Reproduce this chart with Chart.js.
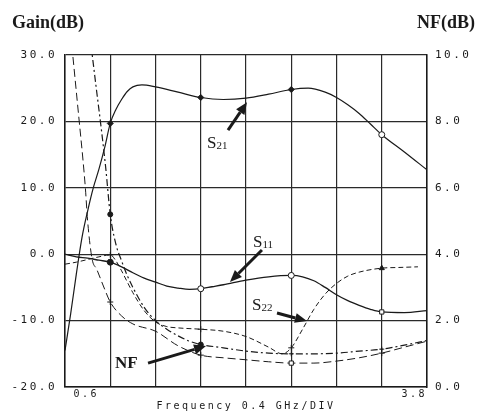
<!DOCTYPE html>
<html>
<head>
<meta charset="utf-8">
<script src="https://cdn.jsdelivr.net/npm/chart.js@4.4.1/dist/chart.umd.min.js"></script>
<style>
  html, body { margin: 0; padding: 0; background: #fff; }
  canvas { display: block; }
</style>
</head>
<body>
<canvas id="myChart" width="477" height="414"></canvas>
<script>
// frequencies in GHz, gain traces in dB (left axis), noise figure in dB (right axis)
var freqS21 = [0.6, 0.65, 0.7, 0.75, 0.8, 0.85, 0.9, 0.95, 1.0, 1.05, 1.1, 1.15, 1.2, 1.28, 1.4, 1.6, 1.8, 2.0, 2.2, 2.4, 2.6, 2.75, 2.9, 3.0, 3.1, 3.2, 3.3, 3.4, 3.6, 3.8];
var gainS21 = [-14.5, -9, -3, 2.5, 6.5, 10, 12.8, 16, 19.7, 21.8, 23.3, 24.5, 25.2, 25.5, 25.2, 24.4, 23.6, 23.3, 23.5, 24.1, 24.8, 25.0, 24.4, 23.6, 22.5, 21.2, 19.6, 18.0, 15.4, 12.7];

var freqS11 = [0.6, 0.7, 0.8, 0.9, 1.0, 1.1, 1.2, 1.3, 1.4, 1.5, 1.6, 1.7, 1.8, 1.9, 2.0, 2.2, 2.4, 2.6, 2.7, 2.8, 2.9, 3.0, 3.1, 3.2, 3.3, 3.4, 3.6, 3.8];
var gainS11 = [0, -0.4, -0.6, -0.9, -1.2, -1.9, -2.8, -3.6, -4.2, -4.8, -5.1, -5.3, -5.2, -4.9, -4.6, -3.9, -3.4, -3.2, -3.4, -4.0, -5.0, -6.1, -7.0, -7.7, -8.3, -8.7, -8.8, -8.5];

var freqS22 = [0.6, 0.7, 0.8, 0.9, 1.0, 1.05, 1.1, 1.2, 1.3, 1.4, 1.5, 1.6, 1.8, 2.0, 2.2, 2.4, 2.52, 2.6, 2.7, 2.8, 2.9, 3.0, 3.1, 3.2, 3.4, 3.55, 3.72];
var gainS22 = [-1.5, -1.2, -0.8, -0.4, -0.1, -1.0, -2.5, -5.8, -8.5, -10.2, -10.9, -11.1, -11.3, -11.6, -12.4, -14.0, -15.0, -14.1, -11.3, -8.3, -6.0, -4.4, -3.3, -2.7, -2.1, -2.0, -1.9];

var freqNF = [0.83, 0.88, 0.92, 0.96, 1.0, 1.05, 1.1, 1.15, 1.2, 1.3, 1.4, 1.5, 1.6, 1.7, 1.8, 2.0, 2.2, 2.4, 2.6, 2.8, 3.0, 3.2, 3.4, 3.6, 3.8];
var nfDb = [10.3, 8.9, 7.8, 6.6, 5.2, 4.3, 3.8, 3.36, 3.0, 2.4, 2.0, 1.74, 1.54, 1.38, 1.28, 1.18, 1.08, 1.02, 1.0, 1.0, 1.02, 1.08, 1.14, 1.26, 1.4];

var freqNF2 = [0.66, 0.68, 0.72, 0.76, 0.78, 0.8, 0.84, 0.88, 0.95, 1.0, 1.1, 1.2, 1.4, 1.6, 1.8, 2.0, 2.2, 2.4, 2.6, 2.8, 3.0, 3.2, 3.4, 3.6, 3.8];
var nf2Db = [10.3, 9.6, 8.2, 6.8, 6.0, 5.0, 3.85, 3.55, 2.95, 2.56, 2.14, 1.9, 1.68, 1.24, 0.96, 0.88, 0.82, 0.76, 0.72, 0.72, 0.78, 0.88, 1.02, 1.2, 1.38];

var markerFreqs = [1.0, 1.8, 2.6, 3.4];

var ink = '#1a1a1a';

function pts(xs, ys) {
	return xs.map(function(f, i) { return { x: f, y: ys[i] }; });
}

function markers(styles, radius, filled) {
	function idx(c) { return c.raw ? markerFreqs.indexOf(c.raw.x) : -1; }
	return {
		pointStyle: function(c) { var i = idx(c); return i >= 0 ? styles[i] : 'circle'; },
		pointRadius: function(c) { return idx(c) >= 0 ? radius : 0; },
		pointBackgroundColor: function(c) { var i = idx(c); return (i >= 0 && filled[i]) ? ink : '#fff'; },
		pointBorderColor: ink,
		pointBorderWidth: 1,
		pointHoverRadius: 0
	};
}

function trace(label, xs, ys, axis, width, dash, mk) {
	return Object.assign({
		label: label,
		data: pts(xs, ys),
		yAxisID: axis,
		borderColor: ink,
		borderWidth: width,
		borderDash: dash,
		fill: false,
		cubicInterpolationMode: 'monotone'
	}, mk);
}

// notes and arrows are placed in data units (GHz, gain dB)
var notes = [
	{ main: 'S', sub: '21', f: 1.855, g: 16.0 },
	{ main: 'S', sub: '11', f: 2.262, g: 1.1 },
	{ main: 'S', sub: '22', f: 2.253, g: -8.4 },
	{ main: 'NF', sub: '', f: 1.042, g: -17.1 }
];
var arrows = [
	{ from: [2.041, 18.7], to: [2.209, 22.9] },
	{ from: [2.341, 0.63], to: [2.058, -4.19] },
	{ from: [2.474, -8.86], to: [2.739, -10.07] },
	{ from: [1.334, -16.4], to: [1.847, -13.82] }
];

var notesPlugin = {
	id: 'notes',
	beforeDraw: function(chart) {
		chart.ctx.letterSpacing = '2.5px';
	},
	afterDraw: function(chart) {
		var ctx = chart.ctx;
		var xs = chart.scales.x, ys = chart.scales.y;
		ctx.save();
		ctx.letterSpacing = '0px';
		ctx.fillStyle = ink;
		ctx.strokeStyle = ink;
		ctx.textBaseline = 'alphabetic';

		ctx.font = 'bold 18px "Liberation Serif"';
		ctx.textAlign = 'left';
		ctx.fillText('Gain(dB)', 12, 28);
		ctx.textAlign = 'right';
		ctx.fillText('NF(dB)', 475, 28);
		ctx.textAlign = 'left';

		notes.forEach(function(n) {
			var px = xs.getPixelForValue(n.f), py = ys.getPixelForValue(n.g);
			ctx.font = (n.sub ? '' : 'bold ') + '17px "Liberation Serif"';
			ctx.fillText(n.main, px, py);
			if (n.sub) {
				var w = ctx.measureText(n.main).width;
				ctx.font = '11px "Liberation Serif"';
				ctx.fillText(n.sub, px + w, py + 1);
			}
		});

		arrows.forEach(function(a) {
			var x0 = xs.getPixelForValue(a.from[0]), y0 = ys.getPixelForValue(a.from[1]);
			var x1 = xs.getPixelForValue(a.to[0]), y1 = ys.getPixelForValue(a.to[1]);
			var ang = Math.atan2(y1 - y0, x1 - x0);
			var head = 12, half = 5;
			var bx = x1 - head * Math.cos(ang), by = y1 - head * Math.sin(ang);
			ctx.lineWidth = 3;
			ctx.beginPath();
			ctx.moveTo(x0, y0);
			ctx.lineTo(bx, by);
			ctx.stroke();
			ctx.beginPath();
			ctx.moveTo(x1, y1);
			ctx.lineTo(bx + half * Math.sin(ang), by - half * Math.cos(ang));
			ctx.lineTo(bx - half * Math.sin(ang), by + half * Math.cos(ang));
			ctx.closePath();
			ctx.fill();
		});
		ctx.restore();
	}
};

var tickFont = { family: '"DejaVu Sans Mono"', size: 11 };
var gridOpts = { color: '#2a2a2a', lineWidth: 1.2, drawTicks: false };

var ctx = document.getElementById('myChart');

var myChart = new Chart(ctx, {
	type: 'line',
	data: {
		datasets: [
			trace('S21', freqS21, gainS21, 'y', 1.2, [], markers(['rectRot', 'rectRot', 'rectRot', 'circle'], 3, [1, 1, 1, 0])),
			trace('S11', freqS11, gainS11, 'y', 1.3, [], markers(['circle', 'circle', 'circle', 'rect'], 3, [1, 0, 0, 0])),
			trace('S22', freqS22, gainS22, 'y', 1, [5, 3], markers(['cross', 'cross', 'cross', 'triangle'], 3, [1, 1, 1, 1])),
			trace('NF', freqNF, nfDb, 'y1', 1.2, [7, 3, 2, 3], markers(['circle', 'circle', 'cross', 'cross'], 2.5, [1, 1, 1, 1])),
			trace('NF2', freqNF2, nf2Db, 'y1', 1, [8, 4], markers(['cross', 'cross', 'rect', 'cross'], 3, [0, 0, 0, 0]))
		]
	},
	options: {
		responsive: false,
		animation: false,
		devicePixelRatio: 1,
		layout: { padding: { top: 55, left: 0, right: 0, bottom: 0 } },
		plugins: {
			legend: { display: false },
			tooltip: { enabled: false }
		},
		scales: {
			x: {
				type: 'linear',
				min: 0.6,
				max: 3.8,
				ticks: {
					stepSize: 0.4,
					autoSkip: false,
					maxRotation: 0,
					align: 'inner',
					padding: 1,
					color: ink,
					font: { family: '"DejaVu Sans Mono"', size: 10 },
					callback: function(v, i, all) {
						if (i === 0) return ' ' + v.toFixed(1);
						if (i === all.length - 1) return v.toFixed(1);
						return '';
					}
				},
				grid: gridOpts,
				border: { color: ink, width: 1.5 },
				title: {
					display: true,
					text: 'Frequency 0.4 GHz/DIV',
					color: ink,
					font: { family: '"DejaVu Sans Mono"', size: 10 },
					padding: { top: 0, bottom: 2 }
				},
				afterFit: function(s) { s.height = 27; }
			},
			y: {
				position: 'left',
				min: -20,
				max: 30,
				ticks: {
					stepSize: 10,
					padding: 8,
					color: ink,
					font: tickFont,
					callback: function(v) { return v.toFixed(1); }
				},
				grid: gridOpts,
				border: { color: ink, width: 1.5 },
				afterFit: function(s) { s.width = 65; }
			},
			y1: {
				position: 'right',
				min: 0,
				max: 10,
				ticks: {
					stepSize: 2,
					padding: 8,
					color: ink,
					font: tickFont,
					callback: function(v) { return v.toFixed(1); }
				},
				grid: { display: false, drawTicks: false },
				border: { color: ink, width: 1.5 },
				afterFit: function(s) { s.width = 50; }
			}
		}
	},
	plugins: [notesPlugin]
});
</script>
</body>
</html>
